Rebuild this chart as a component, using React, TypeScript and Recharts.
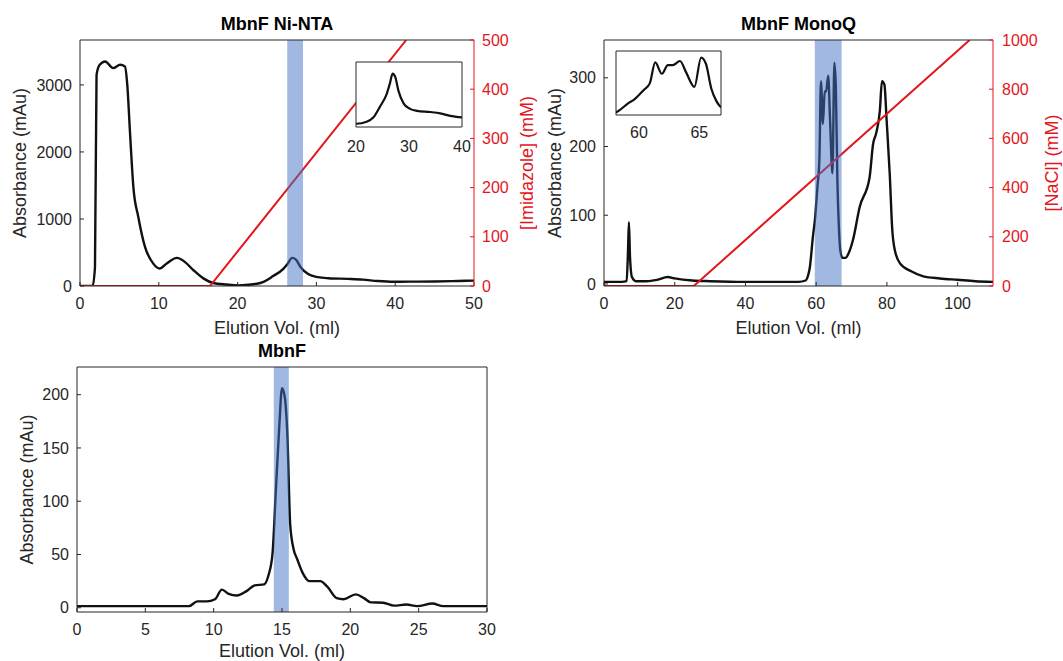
import { CartesianGrid, ComposedChart, Label, Line, ReferenceArea, XAxis, YAxis } from "recharts";

// Ni-NTA affinity run
const niNtaVolume = [0, 1.6, 1.9, 2.1, 2.5, 3.2, 4.2, 5.1, 5.7, 6.0, 6.35, 6.77, 7.4, 8.25, 9.3, 10.1, 11, 12.3, 13.3, 14.4, 15.7, 16.9, 18.6, 20.1, 22, 23.3, 24.5, 25.8, 26.4, 26.9, 27.4, 28, 29, 30.2, 31.5, 34, 35.9, 37.8, 39.8, 42, 45, 48, 50];
const niNtaAbsorbance = [0, 0, 280, 3150, 3300, 3350, 3250, 3300, 3275, 3000, 2280, 1480, 1030, 583, 334, 260, 335, 420, 360, 235, 110, 45, 22, 10, 26, 63, 148, 255, 340, 420, 393, 281, 175, 132, 116, 106, 95, 74, 63, 65, 68, 75, 80];
const imidazoleVolume = [0, 16.5, 41.4];
const imidazoleConc = [0, 0, 500];
const niNtaFraction = [26.3, 28.3];

// MonoQ anion exchange run
const monoQVolume = [0, 5, 6.4, 6.8, 7.05, 7.35, 7.9, 9, 12, 15, 18, 20, 25, 30, 40, 50, 55, 57, 57.8, 58.2, 59.1, 59.6, 60.4, 60.9, 61.35, 61.9, 62.4, 62.8, 63.4, 63.9, 64.6, 65.15, 65.55, 66.0, 66.4, 66.8, 67.4, 68.3, 69.2, 70.4, 72.3, 75.1, 76.1, 77, 78, 78.6, 79.3, 79.9, 80.8, 81.5, 82.2, 83.7, 87, 90.3, 95, 100, 105, 110];
const monoQAbsorbance = [3, 3, 4, 50, 90, 40, 10, 4, 4, 6, 10, 8, 5, 4, 3, 3, 3, 5, 14, 24, 70, 91, 144, 180, 295, 233, 280, 280, 303, 242, 161, 322, 288, 150, 85, 50, 38, 38, 45, 64, 112, 155, 204, 220, 252, 295, 290, 240, 160, 80, 50, 30, 18, 11, 8, 6, 4, 3];
const naclVolume = [0, 25.4, 103.4];
const naclConc = [0, 0, 1000];
const monoQFraction = [59.6, 67.2];

// size exclusion run
const sizingVolume = [0, 8.2, 8.8, 9.5, 10.1, 10.6, 11.1, 11.7, 12.4, 13, 13.7, 14, 14.3, 14.55, 14.8, 15, 15.2, 15.4, 15.6, 15.85, 16.1, 16.5, 17, 17.8, 18.3, 19, 19.5, 20.4, 21, 21.5, 22.4, 23.2, 24.1, 24.9, 26, 26.8, 30];
const sizingAbsorbance = [1.5, 1.5, 6, 6, 8, 17, 13, 11.5, 15.6, 21, 22, 30, 50, 110, 170, 206, 198, 160, 78, 55, 46, 33, 25, 25, 20, 9, 8, 12.5, 9, 5, 4.7, 2, 3, 1.5, 4, 1.5, 1.5];
const sizingFraction = [14.4, 15.5];

const niNtaVolTicks = [0, 10, 20, 30, 40, 50];
const niNtaAbsTicks = [0, 1000, 2000, 3000];
const imidazoleTicks = [0, 100, 200, 300, 400, 500];
const niNtaInsetTicks = [20, 30, 40];
const monoQVolTicks = [0, 20, 40, 60, 80, 100];
const monoQAbsTicks = [0, 100, 200, 300];
const naclTicks = [0, 200, 400, 600, 800, 1000];
const monoQInsetTicks = [60, 65];
const sizingVolTicks = [0, 5, 10, 15, 20, 25, 30];
const sizingAbsTicks = [0, 50, 100, 150, 200];

const FONT = '"Liberation Sans", Arial, Helvetica, sans-serif';
const AXIS = "#262626";
const RED = "#e3161c";
const TRACE = "#111111";
const BAND = "#4471c5";

type Pt = { x: number; y: number };
const zip = (xs: number[], ys: number[]): Pt[] => xs.map((x, i) => ({ x, y: ys[i] }));

type PanelProps = {
  left: number;
  top: number;
  width: number;
  height: number;
  margin: { top: number; right: number; bottom: number; left: number };
  leftWidth: number;
  rightWidth: number;
  xHeight: number;
  title: string;
  trace: Pt[];
  xDomain: [number, number];
  xTicks: number[];
  yDomain: [number, number];
  yTicks: number[];
  band: number[];
  yLabelOffset: number;
  xLabelOffset: number;
  gradient?: Pt[];
  gDomain?: [number, number];
  gTicks?: number[];
  gLabel?: string;
  gLabelOffset?: number;
  gTickMargin?: number;
};

function Panel(p: PanelProps) {
  const grad = !!p.gradient;
  return (
    <div style={{ position: "absolute", left: p.left, top: p.top }}>
      <ComposedChart width={p.width} height={p.height} margin={p.margin}>
        <XAxis xAxisId="bottom" type="number" dataKey="x" domain={p.xDomain} ticks={p.xTicks} interval={0}
          allowDataOverflow height={p.xHeight} tickSize={-4} tickMargin={16} stroke={AXIS}
          tick={{ fill: AXIS, fontSize: 16 }}>
          <Label value="Elution Vol. (ml)" position="insideBottom" offset={p.xLabelOffset}
            style={{ fill: AXIS, fontSize: 18 }} />
        </XAxis>
        <XAxis xAxisId="top" orientation="top" type="number" dataKey="x" domain={p.xDomain} ticks={p.xTicks}
          interval={0} allowDataOverflow height={1} tickSize={-4} tick={false} stroke={AXIS}>
          <Label value={p.title} position="top" offset={9}
            style={{ fill: "#000", fontSize: 18, fontWeight: "bold" }} />
        </XAxis>
        <YAxis yAxisId="left" type="number" domain={p.yDomain} ticks={p.yTicks} interval={0} allowDataOverflow
          width={p.leftWidth} tickSize={-4} tickMargin={12} stroke={AXIS} tick={{ fill: AXIS, fontSize: 16 }}>
          <Label value="Absorbance (mAu)" angle={-90} position="insideLeft" offset={p.yLabelOffset}
            style={{ textAnchor: "middle", fill: AXIS, fontSize: 18 }} />
        </YAxis>
        <YAxis yAxisId="right" orientation="right" type="number" domain={p.gDomain ?? p.yDomain}
          ticks={p.gTicks ?? p.yTicks} interval={0} allowDataOverflow width={p.rightWidth} tickSize={-4}
          tickMargin={p.gTickMargin ?? 12} stroke={grad ? RED : AXIS}
          tick={grad ? { fill: RED, fontSize: 16 } : false}>
          {grad && (
            <Label value={p.gLabel} angle={-90} position="insideRight" offset={p.gLabelOffset}
              style={{ textAnchor: "middle", fill: RED, fontSize: 18 }} />
          )}
        </YAxis>
        <Line xAxisId="bottom" yAxisId="left" data={p.trace} dataKey="y" type="monotone" stroke={TRACE}
          strokeWidth={2.4} dot={false} activeDot={false} isAnimationActive={false} />
        {grad && (
          <Line xAxisId="bottom" yAxisId="right" data={p.gradient} dataKey="y" type="linear" stroke={RED}
            strokeWidth={2} dot={false} activeDot={false} isAnimationActive={false} />
        )}
        <ReferenceArea xAxisId="bottom" yAxisId="left" x1={p.band[0]} x2={p.band[1]} fill={BAND}
          fillOpacity={0.5} stroke="none" zIndex={450} />
      </ComposedChart>
    </div>
  );
}

type InsetProps = {
  left: number;
  top: number;
  marginTop: number;
  marginRight: number;
  xHeight: number;
  labelGap: number;
  trace: Pt[];
  xDomain: [number, number];
  yDomain: [number, number];
  xTicks: number[];
};

function Inset(p: InsetProps) {
  return (
    <div style={{ position: "absolute", left: p.left, top: p.top }}>
      <ComposedChart width={140} height={110} margin={{ top: p.marginTop - 1, right: p.marginRight - 1, bottom: 0, left: 15 }}>
        <CartesianGrid xAxisId="b" yAxisId="l" horizontal={false} vertical={false} fill="#fff" />
        <XAxis xAxisId="b" type="number" dataKey="x" domain={p.xDomain} ticks={p.xTicks} interval={0}
          allowDataOverflow height={p.xHeight} tickLine={false} tickSize={0} tickMargin={p.labelGap}
          stroke={AXIS} tick={{ fill: AXIS, fontSize: 16 }} />
        <XAxis xAxisId="t" orientation="top" type="number" domain={p.xDomain} allowDataOverflow height={1}
          tick={false} tickLine={false} stroke={AXIS} />
        <YAxis yAxisId="l" type="number" domain={p.yDomain} allowDataOverflow width={1} tick={false}
          tickLine={false} stroke={AXIS} />
        <YAxis yAxisId="r" orientation="right" type="number" domain={p.yDomain} allowDataOverflow width={1}
          tick={false} tickLine={false} stroke={AXIS} />
        <Line xAxisId="b" yAxisId="l" data={p.trace} dataKey="y" type="monotone" stroke={TRACE}
          strokeWidth={2.2} dot={false} activeDot={false} isAnimationActive={false} />
      </ComposedChart>
    </div>
  );
}

export default function App() {
  const niNta = zip(niNtaVolume, niNtaAbsorbance);
  const monoQ = zip(monoQVolume, monoQAbsorbance);
  return (
    <div style={{ position: "absolute", left: 0, top: 0, width: 1063, height: 661, background: "#fff", fontFamily: FONT }}>
      <Panel left={0} top={0} width={540} height={340} margin={{ top: 39, right: 6, bottom: 0, left: 0 }}
        leftWidth={80} rightWidth={60} xHeight={54} title="MbnF Ni-NTA" trace={niNta}
        xDomain={[0, 50]} xTicks={niNtaVolTicks} yDomain={[0, 3670]} yTicks={niNtaAbsTicks}
        band={niNtaFraction} yLabelOffset={20} xLabelOffset={6}
        gradient={zip(imidazoleVolume, imidazoleConc)} gDomain={[0, 500]} gTicks={imidazoleTicks}
        gLabel="[Imidazole] (mM)" gLabelOffset={7} gTickMargin={12} />
      <Panel left={540} top={0} width={523} height={340} margin={{ top: 39, right: 10, bottom: 0, left: 0 }}
        leftWidth={64} rightWidth={60} xHeight={54} title="MbnF MonoQ" trace={monoQ}
        xDomain={[0, 110]} xTicks={monoQVolTicks} yDomain={[-3, 355]} yTicks={monoQAbsTicks}
        band={monoQFraction} yLabelOffset={15} xLabelOffset={6}
        gradient={zip(naclVolume, naclConc)} gDomain={[0, 1000]} gTicks={naclTicks}
        gLabel="[NaCl] (mM)" gLabelOffset={1} gTickMargin={13} />
      <Panel left={0} top={340} width={540} height={321} margin={{ top: 26, right: 52, bottom: 0, left: 0 }}
        leftWidth={77} rightWidth={1} xHeight={49} title="MbnF" trace={zip(sizingVolume, sizingAbsorbance)}
        xDomain={[0, 30]} xTicks={sizingVolTicks} yDomain={[-4, 226]} yTicks={sizingAbsTicks}
        band={sizingFraction} yLabelOffset={27} xLabelOffset={4} />
      <Inset left={340} top={50} marginTop={12} marginRight={18} xHeight={33} labelGap={14}
        trace={niNta} xDomain={[20, 40]} yDomain={[-16.5, 515]} xTicks={niNtaInsetTicks} />
      <Inset left={600} top={40} marginTop={11} marginRight={19} xHeight={35} labelGap={12}
        trace={monoQ} xDomain={[58.1, 66.8]} yDomain={[6, 358]} xTicks={monoQInsetTicks} />
    </div>
  );
}
